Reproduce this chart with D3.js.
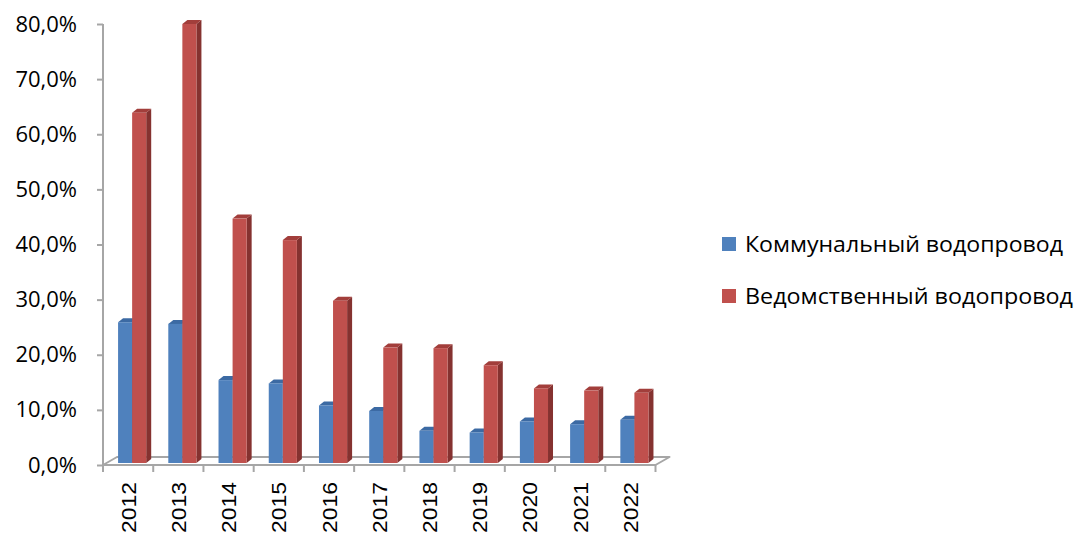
<!DOCTYPE html>
<html>
<head>
<meta charset="utf-8">
<script src="https://cdn.jsdelivr.net/npm/d3@7"></script>
<style>
  body { margin: 0; background: #fff; }
  svg { display: block; }
</style>
</head>
<body>
<div id="chart"></div>
<script>
// data
var years = ["2012", "2013", "2014", "2015", "2016", "2017", "2018", "2019", "2020", "2021", "2022"];
var seriesNames = ["Коммунальный водопровод", "Ведомственный водопровод"];
var communal = [25.9, 25.6, 15.4, 14.8, 10.8, 9.8, 6.2, 5.9, 7.9, 7.4, 8.2];
var departmental = [63.9, 80.0, 44.7, 40.8, 29.8, 21.3, 21.2, 18.1, 13.9, 13.5, 13.1];
var yTicks = [0, 10, 20, 30, 40, 50, 60, 70, 80];

var svgWidth = 1075;
var svgHeight = 536;

var svg = d3.select("#chart")
    .append("svg")
    .attr("width", svgWidth)
    .attr("height", svgHeight);

var axisColor = "#a6a6a6";
var floorDx = 14, floorDy = 8;   // depth of the floor
var barDx = 5, barDy = 4;        // depth of each bar

var xScale = d3.scaleBand()
    .domain(years)
    .range([103, 655.5])
    .padding(0);

var yScale = d3.scaleLinear()
    .domain([0, 80])
    .range([465, 24]);

var fmt = d => d.toFixed(1).replace(".", ",") + "%";

// y axis
var leftAxis = d3.axisLeft(yScale)
    .tickValues(yTicks)
    .tickSize(6)
    .tickPadding(20)
    .tickFormat(fmt);

var yAxisG = svg.append("g")
    .attr("transform", "translate(103,0)")
    .call(leftAxis);
yAxisG.select(".domain").remove();
yAxisG.selectAll("line").attr("stroke", axisColor).attr("stroke-width", 2);
yAxisG.selectAll("text")
    .attr("font-family", "'Open Sans', sans-serif")
    .attr("font-size", "22px")
    .attr("fill", "#000");

svg.append("line")
    .attr("x1", 103).attr("x2", 103)
    .attr("y1", yScale(80)).attr("y2", yScale(0))
    .attr("stroke", axisColor).attr("stroke-width", 2);

// floor
var x0 = xScale.range()[0], x1 = xScale.range()[1], y0 = yScale(0);
svg.append("path")
    .attr("d", `M${x0},${y0} L${x0 + floorDx},${y0 - floorDy} L${x1 + floorDx},${y0 - floorDy} L${x1},${y0} Z`)
    .attr("fill", "none")
    .attr("stroke", axisColor)
    .attr("stroke-width", 2)
    .attr("stroke-linejoin", "round");

// category ticks
var tickXs = years.map(d => xScale(d)).concat([x1]);
svg.selectAll(".xtick")
    .data(tickXs)
    .enter().append("line")
    .attr("x1", d => d).attr("x2", d => d)
    .attr("y1", y0).attr("y2", y0 + 7)
    .attr("stroke", axisColor)
    .attr("stroke-width", 2);

// category labels, rotated
svg.selectAll(".xlabel")
    .data(years)
    .enter().append("text")
    .attr("transform", d => `translate(${xScale(d) + xScale.bandwidth() / 2 + 7.5},482) rotate(-90)`)
    .attr("text-anchor", "end")
    .attr("font-family", "'Liberation Sans', Arial, sans-serif")
    .attr("font-size", "21px")
    .attr("textLength", 51)
    .attr("lengthAdjust", "spacingAndGlyphs")
    .attr("fill", "#000")
    .text(d => d);

// bars
var base = y0 - 2;
var bw = xScale.bandwidth();
var series = [
    { values: communal, front: "#4f81bd", top: "#3c6aa3", side: "#2f5689", off: 0.30 },
    { values: departmental, front: "#c0504d", top: "#a23e3b", side: "#853230", off: 0.58 }
];

series.forEach(function(s) {
    var g = svg.append("g");
    var w = bw * 0.28;
    var bars = g.selectAll("g")
        .data(years.map((y, i) => ({ year: y, v: s.values[i] })))
        .enter().append("g");

    bars.append("path")
        .attr("d", d => {
            var xl = xScale(d.year) + bw * s.off + w, t = yScale(d.v);
            return `M${xl},${t} L${xl + barDx},${t - barDy} L${xl + barDx},${base - barDy} L${xl},${base} Z`;
        })
        .attr("fill", s.side);

    bars.append("path")
        .attr("d", d => {
            var xl = xScale(d.year) + bw * s.off, t = yScale(d.v);
            return `M${xl},${t} L${xl + barDx},${t - barDy} L${xl + w + barDx},${t - barDy} L${xl + w},${t} Z`;
        })
        .attr("fill", s.top);

    bars.append("rect")
        .attr("x", d => xScale(d.year) + bw * s.off)
        .attr("y", d => yScale(d.v))
        .attr("width", w)
        .attr("height", d => base - yScale(d.v))
        .attr("fill", s.front);
});

// legend
var legend = svg.selectAll(".legend")
    .data(seriesNames)
    .enter().append("g")
    .attr("transform", (d, i) => `translate(722,${237 + i * 52})`);

legend.append("rect")
    .attr("width", 14).attr("height", 14)
    .attr("fill", (d, i) => series[i].front);

legend.append("text")
    .attr("x", 23)
    .attr("y", 14.5)
    .attr("font-family", "'Open Sans', sans-serif")
    .attr("font-size", "22px")
    .attr("textLength", (d, i) => i === 0 ? 318 : 328)
    .attr("lengthAdjust", "spacingAndGlyphs")
    .attr("fill", "#000")
    .text(d => d);
</script>
</body>
</html>
